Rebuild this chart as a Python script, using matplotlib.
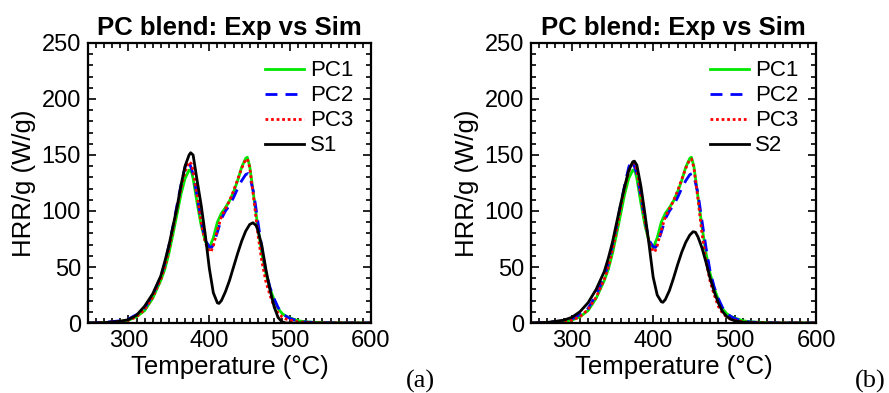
import matplotlib
matplotlib.use('Agg')
import matplotlib.pyplot as plt
from matplotlib.ticker import MultipleLocator

# ---------------- data ----------------
pc1_T = [250, 270, 290, 300, 310, 320, 330, 340, 345, 350, 355, 360, 365, 370, 375, 378, 380, 385, 390, 395,
         400, 405, 410, 415, 420, 425, 430, 435, 440, 445, 447, 450, 455, 460, 465, 470, 475, 480, 485, 490,
         495, 500, 510, 520, 540, 560, 600]
pc1_H = [0, 0.3, 1.5, 2.5, 5.5, 11, 22, 38, 48, 62, 79, 97, 115, 129, 136.5, 135, 129, 107, 87, 73,
         67, 76, 90, 98, 103, 109, 117, 127, 139, 147, 148, 140, 113, 86, 62, 44, 31, 21, 13, 8.5,
         6, 4.5, 2, 1, 0.3, 0, 0]

pc2_T = [250, 270, 290, 300, 305, 310, 315, 320, 330, 340, 345, 350, 355, 360, 365, 370, 373, 375, 380, 385,
         390, 395, 400, 403, 405, 410, 415, 420, 425, 430, 435, 440, 445, 448, 450, 455, 460, 465, 470, 475,
         480, 485, 490, 495, 500, 510, 520, 540, 560, 600]
pc2_H = [0, 0.5, 2, 3.5, 5.5, 7.5, 8, 13, 25, 41, 53, 69, 86, 105, 123, 139, 145, 144, 133, 113,
         91, 74, 68, 67.5, 70, 81, 93, 100, 105, 112, 120, 127, 132.5, 133.5, 131, 116, 91, 67, 46, 32,
         22, 14, 9, 6, 4, 1.8, 0.8, 0.2, 0, 0]

pc3_T = [250, 270, 290, 300, 310, 320, 330, 340, 345, 350, 355, 360, 365, 370, 375, 378, 380, 385, 390, 395,
         400, 402, 405, 410, 415, 420, 425, 430, 435, 440, 445, 447, 450, 455, 460, 465, 470, 475, 480, 485,
         490, 495, 500, 510, 520, 540, 600]
pc3_H = [0, 0.3, 1.5, 2.5, 5.5, 12, 23, 39, 50, 65, 83, 102, 120, 135, 144, 142, 136, 114, 90, 72,
         64, 63.5, 69, 83, 95, 102, 109, 118, 128, 138, 146, 146.5, 139, 111, 80, 55, 37, 25, 15, 9,
         5.5, 3.5, 2.5, 1, 0.5, 0.1, 0]

s1_T = [250, 270, 290, 300, 310, 320, 330, 340, 345, 350, 355, 360, 365, 370, 375, 377, 380, 385, 390, 395,
        400, 405, 410, 412, 415, 420, 425, 430, 435, 440, 445, 450, 454, 458, 460, 465, 470, 475, 480, 485,
        490, 495, 600]
s1_H = [0, 0.3, 1.5, 3, 7, 15, 26, 42, 55, 69, 86, 103, 123, 140, 150, 152, 150, 127, 105, 79,
        49, 27, 18, 17.5, 20, 28, 38, 50, 62, 73, 82, 88, 89.5, 87, 83, 69, 48, 30, 15, 5,
        1, 0, 0]

s2_T = [250, 270, 290, 300, 310, 320, 330, 340, 345, 350, 355, 360, 365, 370, 375, 377, 380, 385, 390, 395,
        400, 405, 410, 412, 415, 420, 425, 430, 435, 440, 445, 449, 452, 455, 460, 465, 470, 475, 480, 485,
        490, 495, 500, 510, 520, 540, 600]
s2_H = [0, 0.5, 2.5, 5, 10, 18, 30, 46, 58, 72, 89, 106, 122, 136, 144, 144.5, 141, 122, 97, 70,
        41, 25, 19, 18.5, 21, 29, 40, 52, 63, 72, 78.5, 81.5, 81, 77, 67, 54, 40, 28, 18, 10.5,
        6, 3.5, 2, 0.7, 0.2, 0, 0]

title = 'PC blend: Exp vs Sim'
xlabel = 'Temperature (°C)'
ylabel = 'HRR/g (W/g)'
xticks = [300, 400, 500, 600]
yticks = [0, 50, 100, 150, 200, 250]
panel_tags = ['(a)', '(b)']
sim_labels = ['S1', 'S2']

# ---------------- figure ----------------
plt.rcParams['font.family'] = ['Liberation Sans', 'DejaVu Sans']
fig = plt.figure(figsize=(8.89, 3.93), dpi=100)
W, H = 889, 393
ax1 = fig.add_axes([88 / W, 70 / H, 283 / W, 280 / H])
ax2 = fig.add_axes([531 / W, 70 / H, 285 / W, 280 / H])

sims = [(s1_T, s1_H), (s2_T, s2_H)]
tag_x = [420, 870]

for ax, (sT, sH), lab, tag, tx in zip([ax1, ax2], sims, sim_labels, panel_tags, tag_x):
    ax.plot(pc1_T, pc1_H, color='#00e800', lw=2.0, label='PC1')
    ax.plot(pc2_T, pc2_H, color='#0000ff', lw=2.0, dashes=(4.3, 2.9), label='PC2')
    ax.plot(pc3_T, pc3_H, color='#ff0000', lw=2.0, dashes=(1, 1), label='PC3')
    ax.plot(sT, sH, color='black', lw=2.0, label=lab)
    ax.set_xlim(250, 600)
    ax.set_ylim(0, 250)
    ax.set_xticks(xticks)
    ax.set_yticks(yticks)
    ax.xaxis.set_minor_locator(MultipleLocator(10))
    ax.yaxis.set_minor_locator(MultipleLocator(10))
    ax.tick_params(which='both', direction='in', top=True, right=True, width=1.2,
                   labelsize=17, pad=5)
    ax.tick_params(which='major', length=6)
    ax.tick_params(which='minor', length=3.5)
    for sp in ax.spines.values():
        sp.set_linewidth(1.6)
    ax.set_title(title, fontsize=18.5, fontweight='bold', pad=6)
    ax.set_xlabel(xlabel, fontsize=18.5, labelpad=2)
    ax.set_ylabel(ylabel, fontsize=18.5, labelpad=4)
    ax.legend(loc='upper right', frameon=False, fontsize=16, handlelength=1.75,
              handletextpad=0.3, labelspacing=0.18, borderaxespad=0.38)
    fig.text(tx / W, 1 - 388 / H, tag, ha='center', va='baseline',
             fontsize=19, family=['Liberation Serif', 'DejaVu Serif'])

fig.savefig('out.png', dpi=100)
